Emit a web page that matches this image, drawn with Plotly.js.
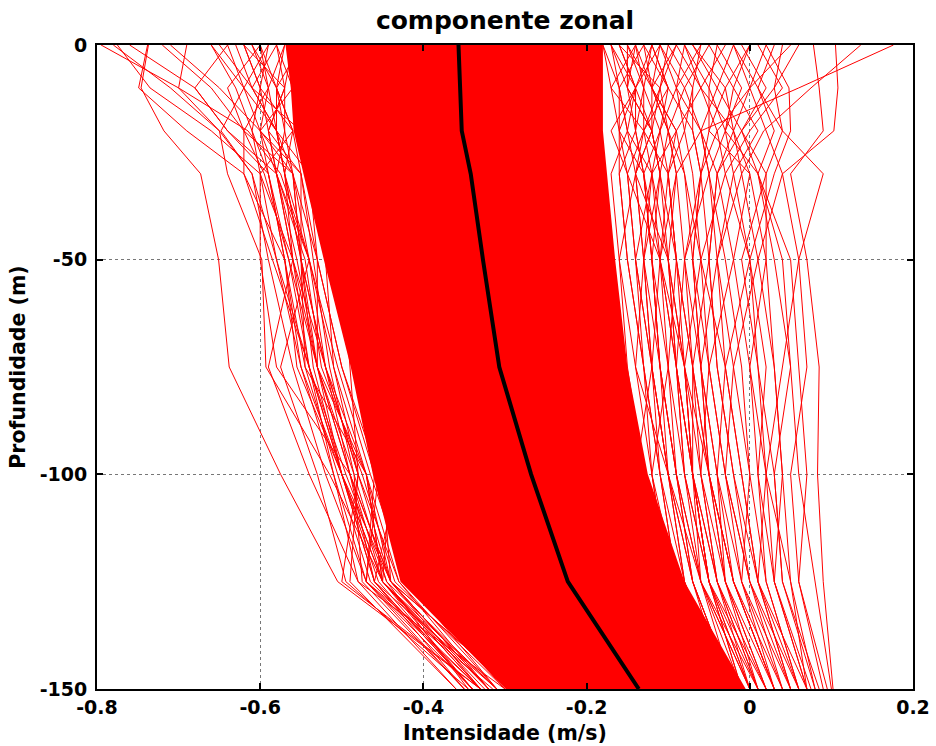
<!DOCTYPE html>
<html>
<head>
<meta charset="utf-8">
<script src="https://cdn.plot.ly/plotly-3.0.1.min.js"></script>
<style>
html,body{margin:0;padding:0;background:#fff;}
#chart{width:936px;height:746px;}
</style>
</head>
<body>
<div id="chart"></div>
<script>
// Depth levels (m)
var depths = [0, -10, -20, -30, -50, -75, -100, -125, -150];

// Mean zonal profile (m/s)
var meanProfile = [-0.357, -0.355, -0.353, -0.342, -0.327, -0.307, -0.268, -0.223, -0.136];

// Edges of the densely packed bundle of profiles (m/s)
var coreLeft  = [-0.569, -0.5625, -0.559, -0.547, -0.522, -0.489, -0.462, -0.428, -0.299];
var coreRight = [-0.180, -0.180, -0.180, -0.175, -0.165, -0.150, -0.125, -0.080, -0.005];

// Individual profiles visible on the left of the dense bundle (m/s)
var profilesLeft = [
  [-0.737,-0.746,-0.718,-0.673,-0.651,-0.638,-0.575,-0.505,-0.330],
  [-0.795,-0.700,-0.615,-0.575,-0.540,-0.505,-0.465,-0.420,-0.300],
  [-0.775,-0.735,-0.660,-0.600,-0.560,-0.520,-0.470,-0.430,-0.310],
  [-0.738,-0.749,-0.690,-0.620,-0.585,-0.540,-0.495,-0.445,-0.345],
  [-0.690,-0.700,-0.650,-0.640,-0.598,-0.593,-0.515,-0.450,-0.320],
  [-0.660,-0.620,-0.648,-0.610,-0.590,-0.560,-0.520,-0.470,-0.340],
  [-0.640,-0.680,-0.640,-0.590,-0.570,-0.555,-0.500,-0.440,-0.290],
  [-0.620,-0.600,-0.560,-0.600,-0.600,-0.580,-0.490,-0.460,-0.310],
  [-0.710,-0.650,-0.600,-0.550,-0.550,-0.520,-0.480,-0.500,-0.330],
  [-0.600,-0.640,-0.620,-0.620,-0.570,-0.545,-0.470,-0.440,-0.320],
  [-0.580,-0.560,-0.600,-0.580,-0.560,-0.590,-0.540,-0.480,-0.300],
  [-0.760,-0.680,-0.640,-0.580,-0.555,-0.530,-0.485,-0.475,-0.350],
  [-0.650,-0.610,-0.580,-0.570,-0.540,-0.575,-0.530,-0.495,-0.345],
  [-0.610,-0.590,-0.620,-0.560,-0.530,-0.500,-0.455,-0.470,-0.315],
  [-0.590,-0.620,-0.580,-0.540,-0.520,-0.510,-0.470,-0.450,-0.325],
  [-0.520,-0.540,-0.530,-0.520,-0.500,-0.490,-0.480,-0.490,-0.360],
  [-0.500,-0.520,-0.510,-0.500,-0.480,-0.470,-0.460,-0.470,-0.330],
  [-0.480,-0.500,-0.500,-0.490,-0.490,-0.460,-0.440,-0.450,-0.310],
  [-0.550,-0.530,-0.520,-0.510,-0.500,-0.480,-0.450,-0.440,-0.290],
  [-0.470,-0.480,-0.490,-0.470,-0.460,-0.450,-0.430,-0.460,-0.340],
  [-0.570,-0.590,-0.600,-0.560,-0.550,-0.520,-0.490,-0.440,-0.330],
  [-0.600,-0.580,-0.570,-0.580,-0.540,-0.510,-0.480,-0.430,-0.320],
  [-0.550,-0.580,-0.560,-0.570,-0.560,-0.530,-0.500,-0.460,-0.350],
  [-0.620,-0.570,-0.590,-0.550,-0.530,-0.500,-0.460,-0.420,-0.310],
  [-0.580,-0.610,-0.550,-0.540,-0.530,-0.530,-0.470,-0.450,-0.340],
  [-0.600,-0.590,-0.580,-0.570,-0.550,-0.530,-0.490,-0.450,-0.330],
  [-0.620,-0.600,-0.590,-0.580,-0.560,-0.540,-0.500,-0.460,-0.340],
  [-0.580,-0.570,-0.570,-0.560,-0.540,-0.520,-0.480,-0.440,-0.320],
  [-0.640,-0.620,-0.600,-0.590,-0.570,-0.550,-0.510,-0.470,-0.350],
  [-0.570,-0.580,-0.580,-0.570,-0.550,-0.535,-0.500,-0.455,-0.340],
  [-0.660,-0.630,-0.610,-0.600,-0.580,-0.550,-0.500,-0.450,-0.320],
  [-0.590,-0.600,-0.610,-0.590,-0.565,-0.540,-0.510,-0.480,-0.360],
  [-0.610,-0.580,-0.560,-0.550,-0.535,-0.515,-0.485,-0.445,-0.310],
  [-0.630,-0.610,-0.580,-0.560,-0.550,-0.545,-0.505,-0.465,-0.330],
  [-0.560,-0.570,-0.590,-0.580,-0.545,-0.525,-0.475,-0.435,-0.300],
  [-0.780,-0.710,-0.650,-0.610,-0.580,-0.540,-0.500,-0.450,-0.330],
  [-0.720,-0.660,-0.620,-0.595,-0.565,-0.530,-0.490,-0.440,-0.320]
];

// Individual profiles visible on the right of the dense bundle (m/s)
var profilesRight = [
  [ 0.176, 0.060,-0.060,-0.090,-0.110,-0.120,-0.100,-0.060, 0.010],
  [ 0.136, 0.075, 0.017,-0.010,-0.040,-0.060,-0.050,-0.020, 0.030],
  [ 0.105, 0.108, 0.103, 0.040, 0.010,-0.020,-0.030, 0.000, 0.050],
  [ 0.040, 0.030, 0.040, 0.090, 0.060, 0.040, 0.020, 0.050, 0.070],
  [ 0.020, 0.048, 0.050, 0.030, 0.000,-0.030,-0.040,-0.010, 0.040],
  [ 0.078, 0.085, 0.090, 0.050, 0.070, 0.085, 0.083, 0.090, 0.102],
  [ 0.060, 0.030,-0.010, 0.010, 0.050, 0.060, 0.070, 0.060, 0.095],
  [-0.020, 0.010, 0.040, 0.020,-0.010, 0.010, 0.030, 0.040, 0.085],
  [ 0.000,-0.030,-0.050, 0.000, 0.020, 0.000, 0.010, 0.020, 0.060],
  [-0.050,-0.020, 0.010,-0.020,-0.040,-0.030,-0.010, 0.010, 0.050],
  [ 0.050, 0.000,-0.040,-0.060,-0.070,-0.060,-0.050,-0.030, 0.020],
  [-0.030,-0.060,-0.020, 0.000,-0.020,-0.050,-0.060,-0.040, 0.000],
  [ 0.010, 0.040, 0.000,-0.030,-0.060,-0.080,-0.070,-0.050,-0.010],
  [-0.080,-0.050,-0.030,-0.050,-0.080,-0.090,-0.080,-0.060,-0.020],
  [-0.100,-0.070,-0.080,-0.100,-0.110,-0.100,-0.090,-0.070,-0.030],
  [-0.060,-0.090,-0.060,-0.040,-0.050,-0.070,-0.070,-0.050, 0.010],
  [ 0.030, 0.010, 0.030, 0.010, 0.030, 0.050, 0.060, 0.080, 0.100],
  [-0.010, 0.020,-0.010,-0.040,-0.020, 0.000, 0.020, 0.030, 0.070],
  [-0.120,-0.100,-0.110,-0.130,-0.120,-0.110,-0.100,-0.080,-0.040],
  [-0.140,-0.120,-0.090,-0.120,-0.140,-0.130,-0.110,-0.090,-0.050],
  [-0.020, 0.000, 0.020, 0.040, 0.060, 0.070, 0.050, 0.060, 0.090],
  [-0.040,-0.010,-0.030, 0.010, 0.040, 0.050, 0.030, 0.040, 0.080],
  [-0.070,-0.040,-0.010, 0.020, 0.020, 0.030, 0.040, 0.030, 0.075],
  [-0.090,-0.060,-0.040,-0.030, 0.000, 0.010, 0.020, 0.010, 0.060],
  [-0.110,-0.080,-0.060,-0.050,-0.030,-0.010, 0.000,-0.010, 0.030],
  [-0.150,-0.130,-0.140,-0.160,-0.150,-0.130,-0.120,-0.100,-0.050],
  [-0.170,-0.150,-0.120,-0.140,-0.160,-0.150,-0.130,-0.110,-0.070],
  [-0.130,-0.160,-0.150,-0.120,-0.130,-0.140,-0.100,-0.080,-0.030],
  [-0.160,-0.110,-0.130,-0.150,-0.140,-0.120,-0.140,-0.120,-0.060],
  [-0.120,-0.140,-0.160,-0.130,-0.120,-0.110,-0.090,-0.070,-0.020],
  [-0.180,-0.160,-0.150,-0.170,-0.160,-0.140,-0.120,-0.090,-0.040],
  [-0.110,-0.120,-0.100,-0.110,-0.130,-0.120,-0.110,-0.090,-0.030],
  [-0.140,-0.170,-0.130,-0.100,-0.090,-0.100,-0.120,-0.100,-0.040],
  [-0.090,-0.110,-0.120,-0.140,-0.100,-0.080,-0.070,-0.060, 0.000],
  [-0.160,-0.140,-0.170,-0.150,-0.110,-0.090,-0.080,-0.050, 0.020],
  [-0.170,-0.160,-0.160,-0.150,-0.140,-0.120,-0.100,-0.070,-0.020],
  [-0.150,-0.150,-0.140,-0.130,-0.120,-0.100,-0.080,-0.050, 0.000],
  [-0.130,-0.120,-0.120,-0.110,-0.100,-0.090,-0.070,-0.040, 0.020],
  [-0.160,-0.140,-0.150,-0.140,-0.130,-0.110,-0.090,-0.060,-0.010],
  [-0.120,-0.130,-0.110,-0.100,-0.090,-0.070,-0.050,-0.030, 0.030],
  [-0.100,-0.110,-0.100,-0.090,-0.080,-0.060,-0.040,-0.020, 0.040],
  [-0.140,-0.130,-0.130,-0.120,-0.110,-0.080,-0.060,-0.030, 0.010],
  [-0.180,-0.170,-0.160,-0.160,-0.150,-0.130,-0.110,-0.080,-0.030],
  [-0.080,-0.090,-0.080,-0.070,-0.060,-0.050,-0.030,-0.010, 0.050],
  [-0.060,-0.070,-0.070,-0.060,-0.050,-0.040,-0.020, 0.000, 0.060],
  [-0.110,-0.090,-0.110,-0.120,-0.100,-0.080,-0.050,-0.020, 0.030],
  [-0.090,-0.120,-0.090,-0.080,-0.070,-0.060,-0.040,-0.030, 0.020],
  [-0.040,-0.050,-0.050,-0.060,-0.070,-0.050,-0.030, 0.000, 0.040],
  [-0.020,-0.040,-0.060,-0.050,-0.040,-0.020, 0.000, 0.020, 0.060],
  [-0.070,-0.030,-0.020,-0.040,-0.050,-0.040,-0.020, 0.010, 0.070],
  [-0.130,-0.100,-0.070,-0.060,-0.080,-0.070,-0.060,-0.040, 0.010],
  [-0.150,-0.120,-0.100,-0.090,-0.100,-0.090,-0.070,-0.050,-0.010],
  [-0.110,-0.140,-0.140,-0.130,-0.110,-0.090,-0.070,-0.050, 0.000],
  [-0.050,-0.080,-0.100,-0.080,-0.060,-0.030,-0.010, 0.010, 0.050],
  [ 0.000,-0.020,-0.030,-0.020, 0.000, 0.020, 0.010, 0.030, 0.070],
  [-0.170,-0.140,-0.120,-0.110,-0.120,-0.110,-0.090,-0.060, 0.000],
  [-0.120,-0.100,-0.130,-0.140,-0.130,-0.120,-0.100,-0.070,-0.020],
  [-0.140,-0.150,-0.120,-0.110,-0.090,-0.080,-0.070,-0.040, 0.010],
  [-0.080,-0.060,-0.090,-0.100,-0.090,-0.070,-0.050,-0.020, 0.030],
  [ 0.020, 0.000,-0.020,-0.010, 0.010, 0.030, 0.040, 0.050, 0.080]
];

var xTickVals = [-0.8, -0.6, -0.4, -0.2, 0, 0.2];
var xTickText = ['-0.8', '-0.6', '-0.4', '-0.2', '0', '0.2'];
var yTickVals = [-150, -100, -50, 0];
var yTickText = ['-150', '-100', '-50', '0'];

var traces = [];
// dense bundle
traces.push({
  type: 'scatter', mode: 'lines',
  x: coreLeft.concat(coreRight.slice().reverse()),
  y: depths.concat(depths.slice().reverse()),
  fill: 'toself', fillcolor: '#ff0000',
  line: {width: 0, color: '#ff0000'},
  hoverinfo: 'skip', showlegend: false
});
profilesLeft.concat(profilesRight).forEach(function (p) {
  traces.push({
    type: 'scatter', mode: 'lines', x: p, y: depths,
    line: {color: '#ff0000', width: 1},
    hoverinfo: 'skip', showlegend: false
  });
});
traces.push({
  type: 'scatter', mode: 'lines', x: meanProfile, y: depths,
  line: {color: '#000000', width: 4},
  hoverinfo: 'skip', showlegend: false
});

var fnt = {family: 'DejaVu Sans, Verdana, sans-serif', color: '#000', weight: 'bold'};
function f(size) { return Object.assign({}, fnt, {size: size}); }

var layout = {
  width: 936, height: 746,
  margin: {l: 97, r: 23, t: 45, b: 57},
  paper_bgcolor: '#fff', plot_bgcolor: '#fff',
  showlegend: false,
  title: {text: 'componente zonal', font: f(25), x: 0.5, xref: 'paper', xanchor: 'center',
          y: 0.973, yref: 'container', yanchor: 'middle'},
  xaxis: {
    range: [-0.8, 0.2], tickvals: xTickVals, ticktext: xTickText,
    ticks: 'inside', ticklen: 6, tickwidth: 2, tickcolor: '#000',
    showline: true, linecolor: '#000', linewidth: 2, mirror: 'ticks',
    showgrid: true, gridcolor: '#777', griddash: 'dot', gridwidth: 1,
    zeroline: false, tickfont: f(19),
    title: {text: 'Intensidade (m/s)', font: f(20.5), standoff: 9}
  },
  yaxis: {
    range: [-150, 0], tickvals: yTickVals, ticktext: yTickText,
    ticks: 'inside', ticklen: 6, tickwidth: 2, tickcolor: '#000',
    showline: true, linecolor: '#000', linewidth: 2, mirror: 'ticks',
    showgrid: true, gridcolor: '#777', griddash: 'dot', gridwidth: 1,
    zeroline: false, tickfont: f(19), ticklabelstandoff: 4,
    title: {text: 'Profundidade (m)', font: f(20.5), standoff: 8}
  },
  hovermode: false
};

Plotly.newPlot('chart', traces, layout, {displayModeBar: false, staticPlot: true});
</script>
</body>
</html>
